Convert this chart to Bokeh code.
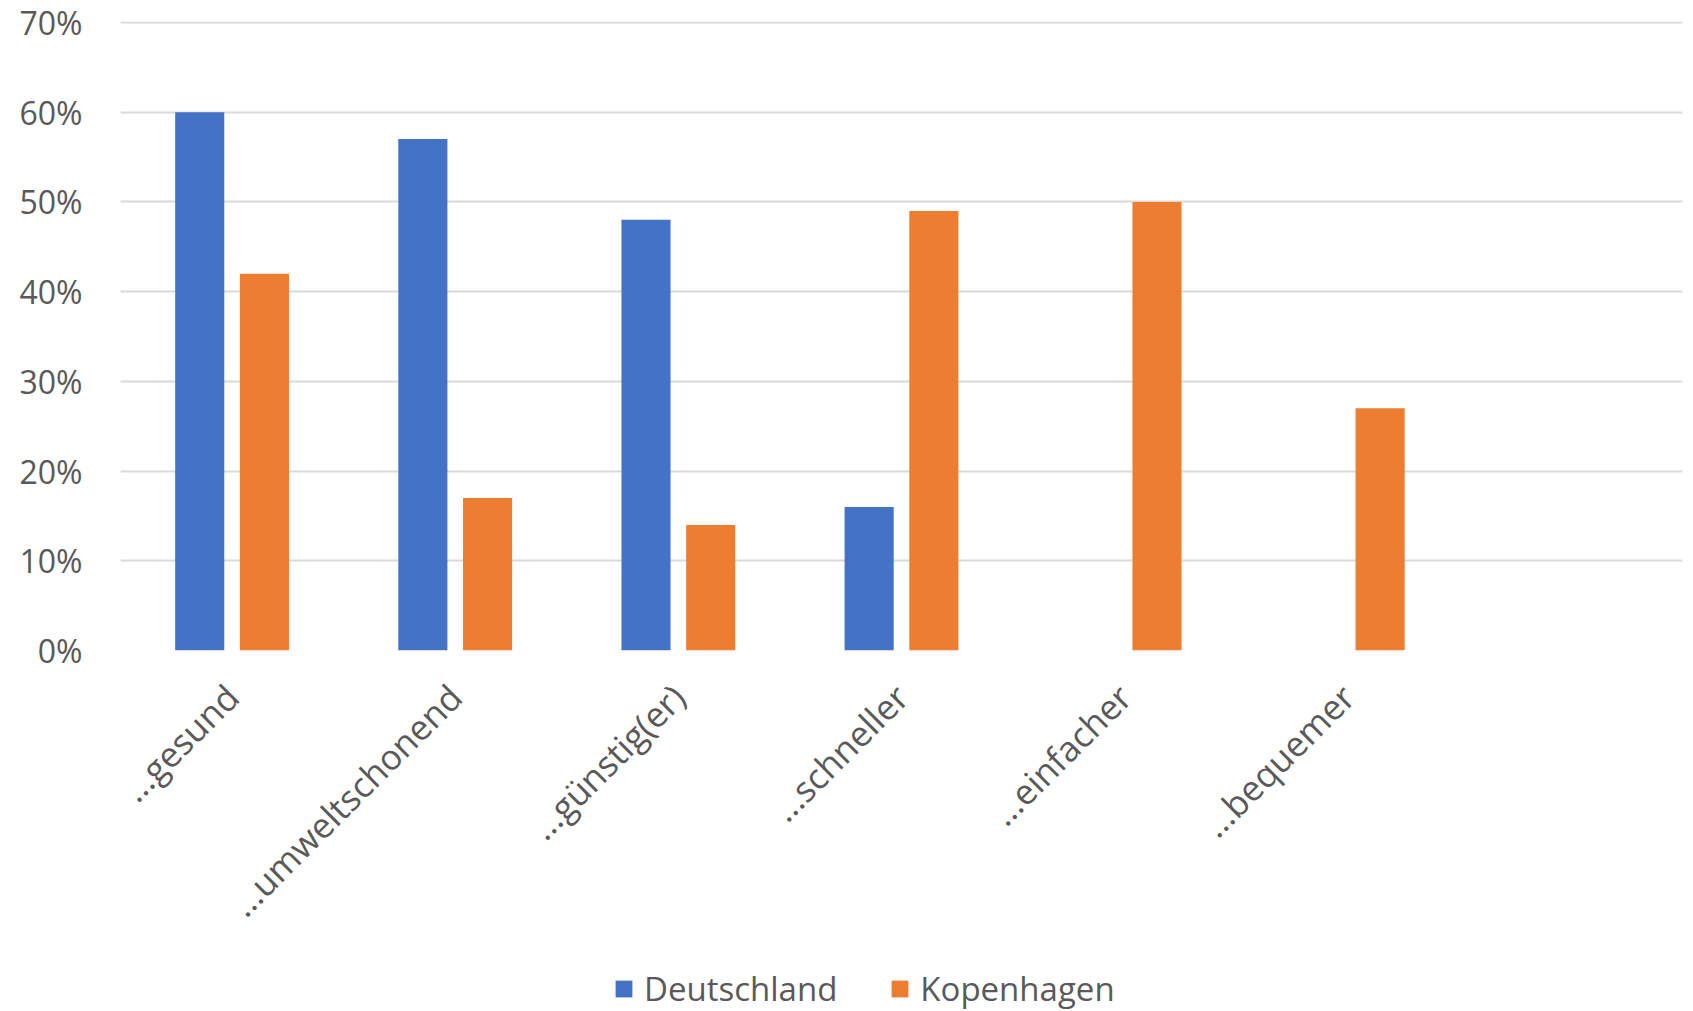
import numpy as np
from bokeh.plotting import figure
from bokeh.layouts import column
from bokeh.models import (ColumnDataSource, FixedTicker, NumeralTickFormatter,
                          Legend, LegendItem, Range1d)
from bokeh.embed import file_html
from bokeh.resources import INLINE

categories = ["...gesund", "...umweltschonend", "...günstig(er)", "...schneller",
              "...einfacher", "...bequemer"]
deutschland = [0.60, 0.57, 0.48, 0.16, 0.0, 0.0]
kopenhagen = [0.42, 0.17, 0.14, 0.49, 0.50, 0.27]
series_names = ["Deutschland", "Kopenhagen"]
y_ticks = [0.0, 0.1, 0.2, 0.3, 0.4, 0.5, 0.6, 0.7]
n_slots = 7  # Excel range leaves one empty slot at the end

BLUE = "#4472C4"
ORANGE = "#ED7D31"
TEXT = "#595959"
FONT = "Open Sans"

idx = np.arange(len(categories)) + 0.5
src = ColumnDataSource(data=dict(
    xd=idx - 0.145, xk=idx + 0.145,
    deutschland=deutschland, kopenhagen=kopenhagen))

W = 1684
H_MAIN = 945
H_LEG = 66
LEFT = 120

p = figure(width=W, height=H_MAIN, output_backend="svg", toolbar_location=None,
           x_range=Range1d(0, n_slots), y_range=Range1d(0, 0.7011),
           min_border_left=LEFT, min_border_right=2, min_border_top=21,
           min_border_bottom=H_MAIN - 652)
p.outline_line_color = None
p.background_fill_color = "white"
p.border_fill_color = "white"

p.vbar(x="xd", top="deutschland", width=0.22, source=src,
       fill_color=BLUE, line_color=None)
p.vbar(x="xk", top="kopenhagen", width=0.22, source=src,
       fill_color=ORANGE, line_color=None)

p.xgrid.grid_line_color = None
p.ygrid.grid_line_color = "#D9D9D9"
p.ygrid.grid_line_width = 2
p.ygrid.ticker = FixedTicker(ticks=y_ticks)

p.yaxis.ticker = FixedTicker(ticks=y_ticks)
p.yaxis.formatter = NumeralTickFormatter(format="0%")
p.yaxis.axis_line_color = None
p.yaxis.major_tick_line_color = None
p.yaxis.minor_tick_line_color = None
p.yaxis.major_label_standoff = 32
p.yaxis.major_label_text_font = FONT
p.yaxis.major_label_text_font_size = "32px"
p.yaxis.major_label_text_color = TEXT

p.xaxis.ticker = FixedTicker(ticks=list(idx))
p.xaxis.major_label_overrides = {float(x): c for x, c in zip(idx, categories)}
p.xaxis.major_label_orientation = np.pi / 4
p.xaxis.axis_line_color = None
p.xaxis.major_tick_line_color = None
p.xaxis.minor_tick_line_color = None
p.xaxis.major_label_standoff = 34
p.xaxis.major_label_text_font = FONT
p.xaxis.major_label_text_font_size = "35px"
p.xaxis.major_label_text_color = TEXT

# legend strip below the chart: hidden proxy bars only give the legend swatches
pl = figure(width=W, height=H_LEG, output_backend="svg", toolbar_location=None,
            x_axis_type=None, y_axis_type=None, min_border=0,
            min_border_left=LEFT, min_border_right=2,
            x_range=Range1d(0, n_slots), y_range=Range1d(0, 0.7))
pl.outline_line_color = None
pl.grid.visible = False
pl.border_fill_color = "white"
pl.background_fill_color = "white"
d1 = pl.vbar(x="xd", top="deutschland", width=0.22, source=src,
             fill_color=BLUE, line_color=None, visible=False)
d2 = pl.vbar(x="xk", top="kopenhagen", width=0.22, source=src,
             fill_color=ORANGE, line_color=None, visible=False)

legend = Legend(items=[LegendItem(label=series_names[0], renderers=[d1]),
                       LegendItem(label=series_names[1], renderers=[d2])],
                orientation="horizontal", location=(613 - LEFT, 0), margin=0,
                padding=0, glyph_width=21, glyph_height=21, label_standoff=10,
                spacing=52, label_text_font=FONT, label_text_font_size="33px",
                label_text_color=TEXT, border_line_color=None,
                background_fill_alpha=0, inactive_fill_alpha=0)
pl.add_layout(legend, "center")

layout = column(p, pl, spacing=0)
open("out.html", "w").write(file_html(layout, INLINE))
